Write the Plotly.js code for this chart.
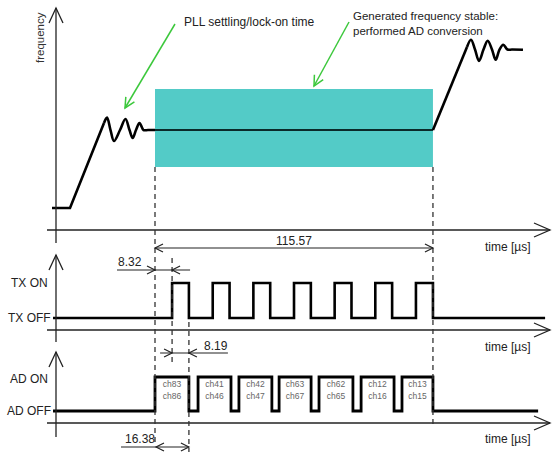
<!DOCTYPE html>
<html><head><meta charset="utf-8">
<script src="https://cdn.plot.ly/plotly-3.0.1.min.js"></script>
<style>html,body{margin:0;padding:0;background:#fff;}#chart{width:555px;height:453px;}</style>
</head><body><div id="chart"></div>
<script>
// ---------- data (time in µs, t = 0 at start of AD conversion) ----------
const convStart = 0;
const convEnd = 115.57;
const dimLabels = ['115.57', '8.32', '8.19', '16.38'];

// frequency curve (relative units: 0 = start level, 1 = lock level, ~2 = next level)
const freqRampT  = [-42.83, -35.34, -21.21];
const freqRampV  = [0, 0, 1.090];
const freqWave1T = [-21.21, -19.96, -18.50, -17.05, -14.55, -12.27, -10.60, -9.27, -7.90, -6.44, -4.78, -2.91, 0];
const freqWave1V = [1.090, 1.160, 1.0, 0.859, 1.0, 1.141, 1.0, 0.897, 1.0, 1.090, 1.0, 1.0, 1.0];
const freqStableT = [0, 115.57];
const freqStableV = [1, 1];
const freqRamp2T = [115.57, 129.73];
const freqRamp2V = [1, 2.064];
const freqWave2T = [129.73, 131.39, 133.06, 134.72, 136.59, 138.34, 140.12, 141.66, 143.24, 144.82, 146.57, 148.44, 153.01];
const freqWave2V = [2.064, 2.158, 2.032, 1.885, 2.032, 2.145, 2.032, 1.901, 2.032, 2.094, 2.032, 2.032, 2.030];
const bandV = [0.526, 1.526];

// TX signal edges
const txRise = [7.1, 24.0, 40.9, 57.8, 74.7, 91.6, 108.5];
const txFall = [14.1, 31.0, 47.9, 64.8, 81.7, 98.6, 115.57];
const txSpan = [-42.4, 162.2];

// AD signal edges
const adRise = [0, 17.9, 34.9, 51.6, 68.2, 85.7, 102.7];
const adFall = [14.1, 31.6, 48.6, 64.9, 82.3, 99.4, 115.57];
const adSpan = [-42.4, 159.3];
const chTop = ['ch83', 'ch41', 'ch42', 'ch63', 'ch62', 'ch12', 'ch13'];
const chBot = ['ch86', 'ch46', 'ch47', 'ch67', 'ch65', 'ch16', 'ch15'];

// ---------- helpers ----------
const W = 555, H = 453, XR = [-64.45, 166.32];
const FONT = 'Liberation Sans, Arial, sans-serif';
const px = t => (t - XR[0]) / (XR[1] - XR[0]) * W;
const P = (x, y) => (x / W).toFixed(5) + ',' + (1 - y / H).toFixed(5);
function seg(x0, y0, x1, y1, opt) {
  return {type: 'line', xref: 'paper', yref: 'paper', x0: x0 / W, y0: 1 - y0 / H, x1: x1 / W, y1: 1 - y1 / H,
    line: Object.assign({color: '#222', width: 1.2}, opt || {})};
}
function head(tx, ty, fx, fy, L, w, color, width) {
  const dx = tx - fx, dy = ty - fy, n = Math.hypot(dx, dy), ux = dx / n, uy = dy / n;
  const bx = tx - ux * L, by = ty - uy * L, nx = -uy, ny = ux;
  return {type: 'path', xref: 'paper', yref: 'paper',
    path: 'M' + P(bx + nx * w, by + ny * w) + 'L' + P(tx, ty) + 'L' + P(bx - nx * w, by - ny * w),
    line: {color: color || '#222', width: width || 1.2}};
}
function steps(span, rise, fall) {
  const x = [span[0]], y = [0];
  for (let i = 0; i < rise.length; i++) { x.push(rise[i], fall[i]); y.push(1, 0); }
  x.push(span[1]); y.push(0);
  return {x, y};
}
function txt(text, x, y, xanchor, size, color, extra) {
  return Object.assign({text, xref: 'paper', yref: 'paper', x: x / W, y: 1 - y / H, xanchor, yanchor: 'middle',
    showarrow: false, font: {family: FONT, size: size || 12, color: color || '#222'}}, extra || {});
}

// ---------- traces ----------
const blk = {color: '#000', width: 2.6};
const tx = steps(txSpan, txRise, txFall);
const ad = steps(adSpan, adRise, adFall);
const adMid = adRise.map((r, i) => (r + adFall[i]) / 2);
const traces = [
  {x: freqRampT, y: freqRampV, mode: 'lines', line: blk, xaxis: 'x', yaxis: 'y'},
  {x: freqWave1T, y: freqWave1V, mode: 'lines', line: Object.assign({shape: 'spline', smoothing: 1}, blk), yaxis: 'y'},
  {x: freqStableT, y: freqStableV, mode: 'lines', line: {color: '#0a2a2a', width: 2}, yaxis: 'y'},
  {x: freqRamp2T, y: freqRamp2V, mode: 'lines', line: blk, yaxis: 'y'},
  {x: freqWave2T, y: freqWave2V, mode: 'lines', line: Object.assign({shape: 'spline', smoothing: 1}, blk), yaxis: 'y'},
  {x: tx.x, y: tx.y, mode: 'lines', line: {color: '#000', width: 2.6, shape: 'hv'}, yaxis: 'y2'},
  {x: ad.x, y: ad.y, mode: 'lines', line: {color: '#000', width: 2.8, shape: 'hv'}, yaxis: 'y3'},
  {x: adMid, y: adMid.map(() => 0.77), mode: 'text', text: chTop, textfont: {family: FONT, size: 8.5, color: '#666'}, yaxis: 'y3'},
  {x: adMid, y: adMid.map(() => 0.41), mode: 'text', text: chBot, textfont: {family: FONT, size: 8.5, color: '#666'}, yaxis: 'y3'}
];

// ---------- shapes ----------
const shapes = [
  {type: 'rect', xref: 'x', yref: 'y', x0: convStart, x1: convEnd, y0: bandV[0], y1: bandV[1],
   fillcolor: '#53cbc7', line: {width: 0}, layer: 'below'}
];
// axes with arrow heads
[[243, 8, 230], [342, 255, 330], [437, 352, 423]].forEach(([yb, yt, yx]) => {
  shapes.push(seg(56, yb, 56, yt, {width: 1.3}), head(56, yt, 56, yb, 15, 7, '#222', 1.3));
  shapes.push(seg(47, yx, 550, yx, {width: 1.3}), head(550, yx, 47, yx, 16, 7, '#222', 1.3));
});
// dashed guide lines
const dash = {color: '#333', width: 1.3, dash: '5px,4px'};
const vline = (t, ya, yb) => ({type: 'line', xref: 'x', yref: 'paper', x0: t, x1: t, y0: 1 - ya / H, y1: 1 - yb / H, line: dash});
shapes.push(vline(convStart, 167, 445), vline(convEnd, 167, 428), vline(txRise[0], 258, 365), vline(txFall[0], 322, 452));
// dimension lines
const a = px(convStart), b = px(convEnd), r0 = px(txRise[0]), f0 = px(txFall[0]), af0 = px(adFall[0]);
shapes.push(seg(a, 248, b, 248), head(a, 248, a + 10, 248, 8, 4), head(b, 248, b - 10, 248, 8, 4));
shapes.push(seg(a - 38, 270, r0 + 18, 270), head(a, 270, a - 10, 270, 8, 4), head(r0, 270, r0 + 10, 270, 8, 4));
shapes.push(seg(r0 - 12, 353, f0 + 39, 353), head(r0, 353, r0 - 10, 353, 8, 4), head(f0, 353, f0 + 10, 353, 8, 4));
shapes.push(seg(a - 34, 447, af0, 447), head(a + 1, 447, a + 11, 447, 8, 4), head(af0, 447, af0 - 10, 447, 8, 4));
// green pointer arrows
const G = '#3cc83c';
shapes.push(seg(175, 24, 125, 108, {color: G, width: 1.5}), head(125, 108, 175, 24, 10, 5, G, 1.5));
shapes.push(seg(349, 22, 314, 86, {color: G, width: 1.5}), head(314, 86, 349, 22, 10, 5, G, 1.5));

// ---------- annotations ----------
const annotations = [
  txt('frequency', 40, 38, 'center', 11.5, '#333', {textangle: -90}),
  txt('PLL settling/lock-on time', 182, 22, 'left', 12),
  txt('Generated frequency stable:<br>performed AD conversion', 351, 23.5, 'left', 11.5, '#222', {align: 'left'}),
  txt(dimLabels[0], 294, 241, 'center', 12),
  txt(dimLabels[1], 130, 262, 'center', 12),
  txt(dimLabels[2], 216, 346, 'center', 12),
  txt(dimLabels[3], 140, 439, 'center', 12),
  txt('TX ON', 50, 283, 'right', 12),
  txt('TX OFF', 53, 318, 'right', 12),
  txt('AD ON', 50, 379, 'right', 12),
  txt('AD OFF', 53, 411, 'right', 12),
  txt('time [µs]', 533, 247, 'right', 12),
  txt('time [µs]', 533, 347, 'right', 12),
  txt('time [µs]', 533, 439, 'right', 12)
];

const layout = {
  width: W, height: H, margin: {l: 0, r: 0, t: 0, b: 0}, showlegend: false,
  paper_bgcolor: '#fff', plot_bgcolor: '#fff',
  xaxis: {range: XR, domain: [0, 1], visible: false, fixedrange: true},
  yaxis: {range: [-3.141, 2.667], domain: [0, 1], visible: false, fixedrange: true},
  yaxis2: {range: [-3.857, 9.086], overlaying: 'y', visible: false, fixedrange: true},
  yaxis3: {range: [-1.235, 12.088], overlaying: 'y', visible: false, fixedrange: true},
  shapes, annotations
};
Plotly.newPlot('chart', traces, layout, {displayModeBar: false, staticPlot: true});
</script></body></html>
